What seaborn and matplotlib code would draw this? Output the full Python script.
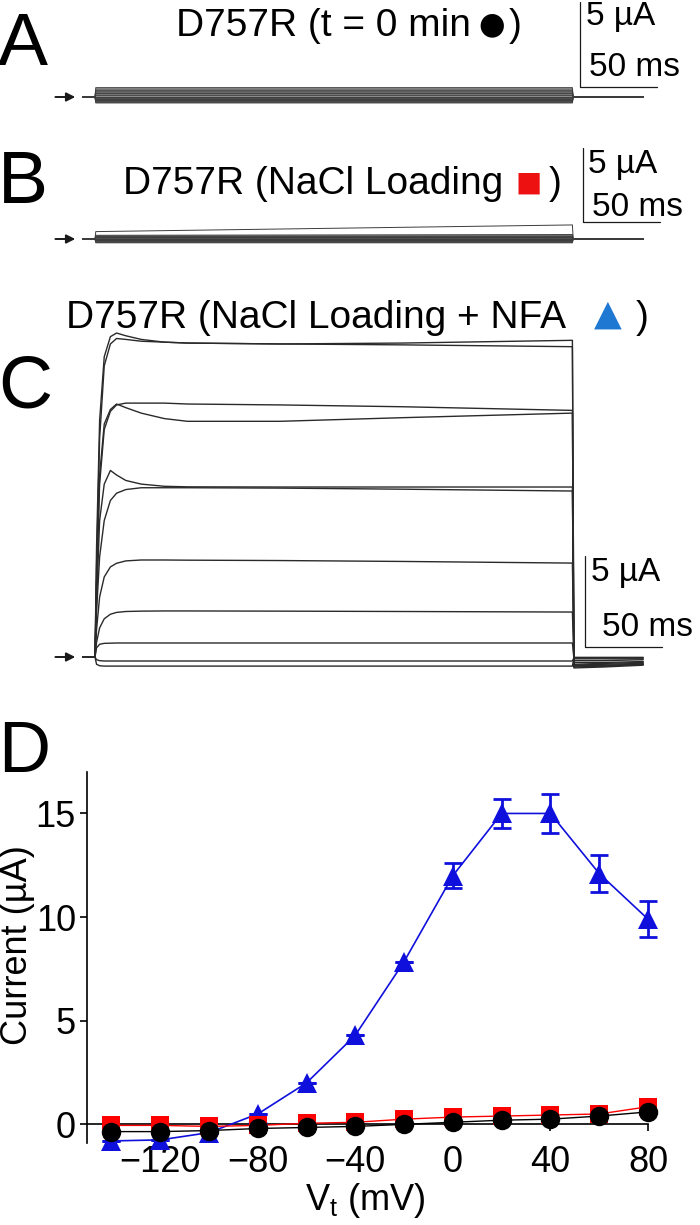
import matplotlib
matplotlib.use("Agg")
import matplotlib.pyplot as plt
import numpy as np
import pandas as pd
import seaborn as sns

# ---- panel D : I-V data ----
volt = [-140, -120, -100, -80, -60, -40, -20, 0, 20, 40, 60, 80]
cur_t0 = [-0.35, -0.35, -0.3, -0.2, -0.15, -0.1, 0.0, 0.1, 0.2, 0.25, 0.4, 0.6]
cur_nacl = [-0.05, -0.05, -0.1, -0.05, 0.05, 0.1, 0.25, 0.35, 0.4, 0.45, 0.5, 0.85]
cur_nfa = [-0.8, -0.75, -0.4, 0.5, 2.0, 4.3, 7.85, 12.0, 15.0, 15.0, 12.1, 9.9]
err_nfa = [0, 0, 0, 0, 0, 0, 0, 0.6, 0.7, 0.95, 0.9, 0.87]
xticks = [-120, -80, -40, 0, 40, 80]
yticks = [0, 5, 10, 15]

# ---- panel A : sweeps at t = 0 min (flat levels, uA) ----
a_time = [-8, 0, 0.5, 310, 310.5, 356]
a_level = [-0.35, -0.3, -0.25, -0.2, -0.15, -0.1, 0.0, 0.1, 0.2, 0.3, 0.4, 0.55]

# ---- panel B : sweeps after NaCl loading (start / end levels, uA) ----
b_time = [-8, 0, 0.5, 310, 310.5, 356]
b_start = [-0.25, -0.2, -0.15, -0.1, -0.05, 0.0, 0.05, 0.1, 0.15, 0.2, 0.25, 0.5]
b_end = [-0.25, -0.2, -0.15, -0.1, -0.05, 0.0, 0.05, 0.1, 0.15, 0.2, 0.3, 0.95]

# ---- panel C : sweeps with NFA, sampled at c_time (ms) ----
c_time = [-8, 0, 1, 3, 6, 10, 14, 20, 30, 45, 60, 120, 200, 310, 311, 330, 356]
c_sw1 = [0, 0, 6.0, 13.0, 16.5, 17.6, 17.8, 17.65, 17.45, 17.3, 17.25, 17.2, 17.25, 17.4, -0.45, -0.5, -0.4]
c_sw2 = [0, 0, 5.0, 12.0, 16.0, 17.2, 17.5, 17.45, 17.35, 17.3, 17.25, 17.2, 17.15, 17.05, -0.6, -0.55, -0.45]
c_sw3 = [0, 0, 4.0, 9.5, 12.5, 13.5, 13.85, 13.95, 13.95, 13.95, 13.9, 13.85, 13.75, 13.55, -0.5, -0.45, -0.4]
c_sw4 = [0, 0, 4.0, 10.0, 12.8, 13.6, 13.9, 13.7, 13.4, 13.1, 12.95, 12.95, 13.15, 13.4, -0.55, -0.5, -0.4]
c_sw5 = [0, 0, 3.0, 7.5, 9.5, 10.25, 10.0, 9.7, 9.5, 9.38, 9.35, 9.34, 9.34, 9.34, -0.45, -0.4, -0.35]
c_sw6 = [0, 0, 2.5, 5.5, 7.5, 8.6, 9.0, 9.2, 9.3, 9.3, 9.3, 9.28, 9.22, 9.12, -0.4, -0.35, -0.3]
c_sw7 = [0, 0, 1.5, 3.3, 4.4, 4.95, 5.15, 5.28, 5.33, 5.33, 5.32, 5.3, 5.25, 5.16, -0.3, -0.3, -0.25]
c_sw8 = [0, 0, 0.8, 1.6, 2.1, 2.35, 2.45, 2.5, 2.52, 2.53, 2.53, 2.52, 2.5, 2.47, -0.2, -0.2, -0.15]
c_sw9 = [0, 0, 0.5, 0.7, 0.75, 0.76, 0.77, 0.77, 0.77, 0.77, 0.77, 0.77, 0.77, 0.77, -0.1, -0.1, -0.1]
c_sw10 = [0, 0, -0.15, -0.2, -0.22, -0.22, -0.22, -0.22, -0.22, -0.22, -0.22, -0.22, -0.22, -0.22, -0.05, -0.05, -0.05]
c_sw11 = [0, 0, -0.4, -0.48, -0.5, -0.5, -0.5, -0.5, -0.5, -0.5, -0.5, -0.5, -0.5, -0.5, -0.02, -0.02, -0.02]

sns.set_theme(style="white")
plt.rcParams['font.family'] = ['Liberation Sans', 'DejaVu Sans']
plt.rcParams['mathtext.fontset'] = 'custom'
plt.rcParams['mathtext.rm'] = 'Liberation Sans'
plt.rcParams['mathtext.it'] = 'Liberation Sans:italic'
plt.rcParams['text.color'] = 'black'
plt.rcParams['axes.labelcolor'] = 'black'
plt.rcParams['axes.edgecolor'] = 'black'
plt.rcParams['xtick.color'] = 'black'
plt.rcParams['ytick.color'] = 'black'

W, H = 700, 1225
fig = plt.figure(figsize=(7, 12.25), dpi=100)

T0 = 95       # pixel of pulse start
PPMS = 1.54   # pixels per ms


def box(x0, y0, x1, y1):
    return [x0 / W, 1 - y1 / H, (x1 - x0) / W, (y1 - y0) / H]


def ftext(x, y, s, **kw):
    fig.text(x / W, 1 - y / H, s, **kw)


def trace_axes(x0, y0, x1, y1, base, ppu):
    ax = fig.add_axes(box(x0, y0, x1, y1))
    ax.set_xlim((x0 - T0) / PPMS, (x1 - T0) / PPMS)
    ax.set_ylim((base - y1) / ppu, (base - y0) / ppu)
    ax.axis('off')
    return ax


def draw_sweeps(ax, df, lw=1.0, color='#1e1e1e'):
    sns.lineplot(data=df, x='t', y='i', units='sweep', estimator=None,
                 sort=False, color=color, lw=lw, ax=ax, legend=False)


def scale_bar(ax, t, i0):
    ax.plot([t, t, t + 50], [i0 + 5, i0, i0], color='k', lw=0.9)


def base_arrow(ax):
    ax.annotate('', xy=(-11, 0), xytext=(-27.5, 0),
                arrowprops=dict(arrowstyle='-|>', color='k', lw=1.4,
                                mutation_scale=13), annotation_clip=False)


# ---------------- panel A ----------------
axa = trace_axes(30, 0, 700, 130, 97, 17.0)
rows = []
for k, lv in enumerate(a_level):
    for t, v in zip(a_time, [0, 0, lv, lv, 0, 0]):
        rows.append((k, t, v))
dfa = pd.DataFrame(rows, columns=['sweep', 't', 'i'])
axa.fill_between([0.5, 310], min(a_level), max(a_level), color='#8c8c8c', lw=0)
draw_sweeps(axa, dfa, lw=0.7, color='#3c3c3c')
scale_bar(axa, 315, 0.59)
base_arrow(axa)

# ---------------- panel B ----------------
axb = trace_axes(30, 130, 700, 270, 239, 14.8)
rows = []
for k, (s0, s1) in enumerate(zip(b_start, b_end)):
    for t, v in zip(b_time, [0, 0, s0, s1, 0, 0]):
        rows.append((k, t, v))
dfb = pd.DataFrame(rows, columns=['sweep', 't', 'i'])
axb.fill_between([0.5, 310], [min(b_start), min(b_end)], [b_start[-2], b_end[-2]],
                 color='#8c8c8c', lw=0)
draw_sweeps(axb, dfb, lw=0.7, color='#3c3c3c')
scale_bar(axb, 317, 1.15)
base_arrow(axb)

# ---------------- panel C ----------------
axc = trace_axes(30, 320, 700, 690, 657, 18.2)
c_sweeps = [c_sw1, c_sw2, c_sw3, c_sw4, c_sw5, c_sw6, c_sw7, c_sw8, c_sw9, c_sw10, c_sw11]
dfc = pd.DataFrame([(k, t, v) for k, sw in enumerate(c_sweeps) for t, v in zip(c_time, sw)],
                   columns=['sweep', 't', 'i'])
draw_sweeps(axc, dfc, lw=1.0, color='#2a2a2a')
scale_bar(axc, 318, 0.55)
base_arrow(axc)

# ---------------- panel D ----------------
axd = fig.add_axes(box(87, 772, 648, 1143))
axd.errorbar(volt, cur_nfa, yerr=err_nfa, fmt='none', ecolor='#1010dd',
             elinewidth=2.0, capsize=6.5, capthick=2.0, zorder=2, clip_on=False)
sns.lineplot(x=volt, y=cur_nfa, color='#1010dd', lw=1.2, marker='^', markersize=15,
             markeredgewidth=0, ax=axd, clip_on=False, zorder=3)
sns.lineplot(x=volt, y=cur_nacl, color='#ff0000', lw=1.0, marker='s', markersize=13,
             markeredgewidth=0, ax=axd, clip_on=False, zorder=4)
sns.lineplot(x=volt, y=cur_t0, color='black', lw=1.0, marker='o', markersize=14,
             markeredgewidth=0, ax=axd, clip_on=False, zorder=5)
axd.set_xlim(-150, 80)
axd.set_ylim(-0.9, 17)
axd.spines['top'].set_visible(False)
axd.spines['right'].set_visible(False)
axd.spines['bottom'].set_position(('data', 0))
axd.spines['bottom'].set_bounds(-150, 80)
for sp in ['left', 'bottom']:
    axd.spines[sp].set_linewidth(1.2)
    axd.spines[sp].set_color('black')
axd.set_xticks(xticks)
axd.set_yticks(yticks)
axd.tick_params(bottom=True, left=True, direction='out', length=5, width=1.2,
                labelsize=26)
axd.tick_params(axis='x', pad=10)
axd.tick_params(axis='y', pad=3)
axd.set_xlabel(r'V$_{\mathregular{t}}$ (mV)', fontsize=26)
axd.set_ylabel('Current (µA)', fontsize=26)
axd.xaxis.set_label_coords((365 - 87) / 561, (1143 - 1200) / 371)
axd.xaxis.label.set_va('center')
axd.yaxis.set_label_coords((18 - 87) / 561, (1143 - 945) / 371)
axd.yaxis.label.set_va('center')

# ---------------- titles, letters, scale labels ----------------
TS = 28
ftext(176, 36, 'D757R (t = 0 min', fontsize=TS, va='baseline')
ftext(492, 33, '●', fontsize=22, ha='center', va='baseline', family='DejaVu Sans')
ftext(509, 36, ')', fontsize=TS, va='baseline')

ftext(123, 194, 'D757R (NaCl Loading', fontsize=TS, va='baseline')
ftext(529, 191, '■', fontsize=20, ha='center', va='baseline', color='#ee1111',
      family='DejaVu Sans')
ftext(549, 194, ')', fontsize=TS, va='baseline')

ftext(66, 328, 'D757R (NaCl Loading + NFA', fontsize=TS, va='baseline')
ftext(608, 325, '▲', fontsize=26, ha='center', va='baseline', color='#1f78d1',
      family='DejaVu Sans')
ftext(636, 328, ')', fontsize=TS, va='baseline')

for letter, yb, fs in [('A', 65, 54), ('B', 203, 54), ('C', 408, 54), ('D', 772, 52)]:
    ftext(-2, yb, letter, fontsize=fs, va='baseline')

for xt, yc, s in [(586, 16, '5 µA'), (589, 68, '50 ms'),
                  (588, 165, '5 µA'), (592, 208, '50 ms'),
                  (591, 572, '5 µA'), (602, 628, '50 ms')]:
    ftext(xt, yc, s, fontsize=24, va='center')

fig.savefig('out.png', dpi=100)
